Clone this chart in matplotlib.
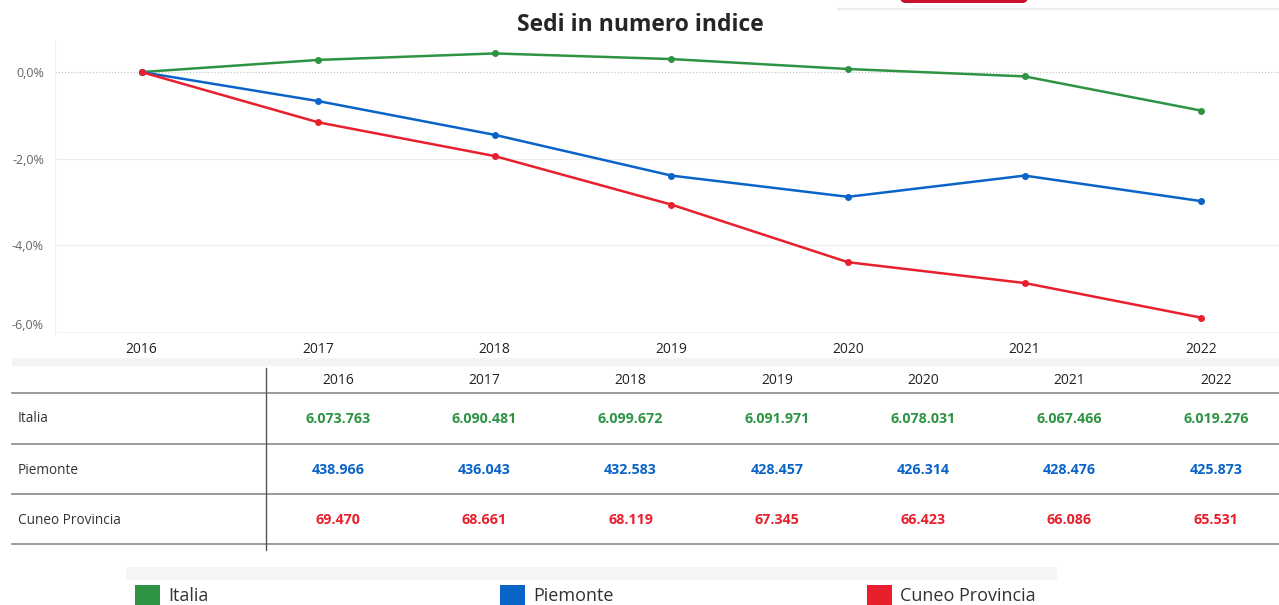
import matplotlib.pyplot as plt
from matplotlib.patches import Rectangle, FancyBboxPatch

plt.rcParams['font.family'] = ['Open Sans', 'DejaVu Sans']

# data
years = [2016, 2017, 2018, 2019, 2020, 2021, 2022]
series_names = ['Italia', 'Piemonte', 'Cuneo Provincia']
series_colors = ['#2e9444', '#0a64c8', '#e8202e']

# index values (% change vs 2016)
italia_idx = [0.0, 0.28, 0.43, 0.30, 0.07, -0.10, -0.89]
piemonte_idx = [0.0, -0.67, -1.45, -2.39, -2.88, -2.39, -2.98]
cuneo_idx = [0.0, -1.16, -1.94, -3.06, -4.39, -4.87, -5.67]

# table values (number of sedi)
italia_sedi = [6073763, 6090481, 6099672, 6091971, 6078031, 6067466, 6019276]
piemonte_sedi = [438966, 436043, 432583, 428457, 426314, 428476, 425873]
cuneo_sedi = [69470, 68661, 68119, 67345, 66423, 66086, 65531]

W, H = 1279, 605
fig = plt.figure(figsize=(W / 100, H / 100), dpi=100)

# overlay axes in pixel coordinates for table, legend and decorations
ov = fig.add_axes([0, 0, 1, 1])
ov.set_xlim(0, W)
ov.set_ylim(H, 0)
ov.axis('off')

# main line chart
ax = fig.add_axes([55 / W, 1 - 335 / H, (W - 55) / W, 295 / H])
ax.set_facecolor('none')
for name, vals, col in zip(series_names, [italia_idx, piemonte_idx, cuneo_idx], series_colors):
    ax.plot(years, vals, color=col, lw=1.8, marker='o', ms=4, label=name, zorder=3)

ax.set_xlim(2015.51, 2022.44)
ax.set_ylim(-6.07, 0.74)
for s in ax.spines.values():
    s.set_visible(False)
ax.axvline(2015.51, color='#f0f0f0', lw=1)
yt = [-6, -4, -2, 0]
ax.set_yticks(yt)
ax.set_yticklabels([f"{v:.1f}%".replace('.', ',') for v in yt])
ax.set_xticks(years)
ax.set_xticklabels([str(y) for y in years])
ax.tick_params(axis='y', length=0, labelsize=9, labelcolor='#666666', pad=8)
ax.tick_params(axis='x', length=0, labelsize=10, labelcolor='#222222', pad=5)
ax.get_yticklabels()[0].set_va('bottom')
for v in [-4, -2]:
    ax.axhline(v, color='#ececec', lw=0.8, zorder=1)
ax.axhline(-6, color='#f4f4f4', lw=0.8, zorder=1)
ax.axhline(0, color='#c8c8c8', lw=0.9, ls=(0, (1, 1.5)), zorder=1)

fig.text(640 / W, 1 - 25 / H, 'Sedi in numero indice', ha='center', va='center',
         fontsize=16.5, fontweight='bold', color='#262626')

# top-right cropped decorations
ov.add_patch(FancyBboxPatch((900, -10), 128, 13, boxstyle='round,pad=0,rounding_size=6',
                            fc='#c8102e', ec='none'))
ov.plot([838, W], [9, 9], color='#ececec', lw=1.5)

# light band between chart and table
ov.add_patch(Rectangle((12, 358), W - 12, 8, fc='#f4f4f4', ec='none'))

# table
col_x = [338 + i * 146.3 for i in range(len(years))]
for x, y in zip(col_x, years):
    ov.text(x, 381, str(y), ha='center', va='center', fontsize=10, color='#222222')
row_y = [419, 470, 520]
for ry, name, vals, col in zip(row_y, series_names,
                               [italia_sedi, piemonte_sedi, cuneo_sedi], series_colors):
    ov.text(18, ry, name, ha='left', va='center', fontsize=9.8, color='#333333')
    for x, v in zip(col_x, vals):
        ov.text(x, ry, f"{v:,}".replace(',', '.'), ha='center', va='center',
                fontsize=10.3, fontweight='bold', color=col)
for ly in [393, 444, 494, 544]:
    ov.plot([12, W], [ly, ly], color='#8a8a8a', lw=1.2)
ov.plot([266, 266], [368, 550], color='#555555', lw=1)

# legend
ov.add_patch(Rectangle((126, 567), 931, 13, fc='#f4f6f4', ec='none'))
leg_x = [135, 500, 867]
for x, name, col in zip(leg_x, series_names, series_colors):
    ov.add_patch(Rectangle((x, 585), 25, 22, fc=col, ec='none'))
    ov.text(x + 33, 596, name, ha='left', va='center', fontsize=13, color='#333333')

fig.savefig('out.png', dpi=100)
